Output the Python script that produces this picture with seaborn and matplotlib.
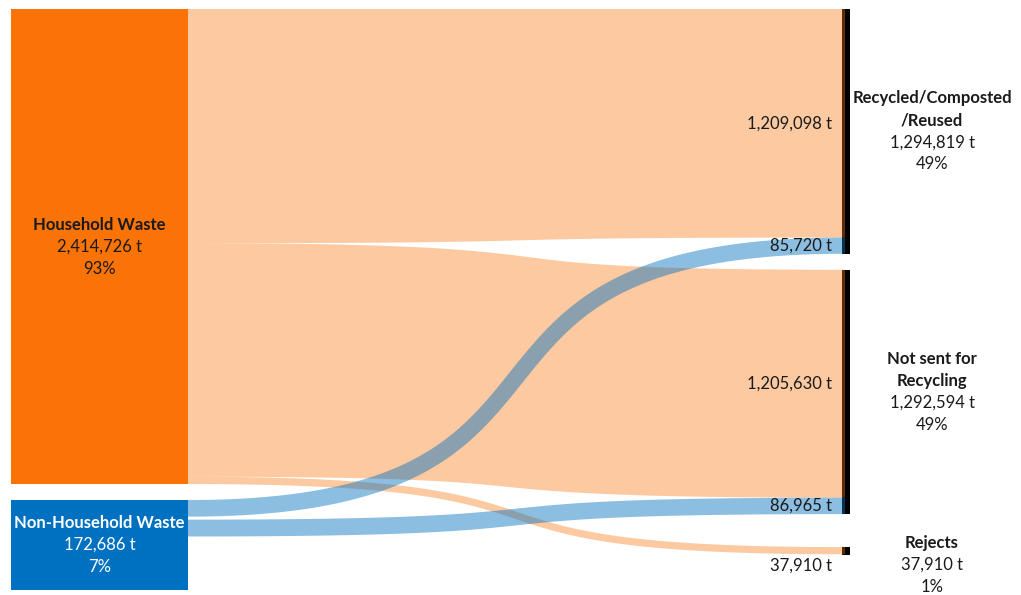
import numpy as np
import pandas as pd
import matplotlib
matplotlib.use("Agg")
import matplotlib.pyplot as plt
from matplotlib.patches import Polygon, Rectangle
import seaborn as sns

# ---------------- data ----------------
sources = ["Household Waste", "Non-Household Waste"]
source_values = [2414726, 172686]
source_pcts = ["93%", "7%"]
targets = ["Recycled/Composted\n/Reused", "Not sent for\nRecycling", "Rejects"]
target_values = [1294819, 1292594, 37910]
target_pcts = ["49%", "49%", "1%"]
flow_source = [0, 1, 0, 1, 0]
flow_target = [0, 0, 1, 1, 2]
flow_values = [1209098, 85720, 1205630, 86965, 37910]

flows = pd.DataFrame({"src": flow_source, "tgt": flow_target, "value": flow_values})

# ---------------- style ----------------
sns.set_theme(style="white")
plt.rcParams["font.family"] = ["Lato", "DejaVu Sans"]

source_colors = ["#F97306", "#0070C0"]
flow_alpha = [0.38, 0.45]
text_color = "#1a1a1a"
label_colors = [text_color, "white"]

W, H = 1021, 595
fig = plt.figure(figsize=(W / 100, H / 100), dpi=100)
ax = fig.add_axes([0, 0, 1, 1])
ax.set_xlim(0, W)
ax.set_ylim(H, 0)
ax.axis("off")

# layout
left_x0, left_x1 = 11, 188
right_x0, right_x1 = 842, 850
flow_x1 = 845
top = 9
scale_left = 1 / 5163.0
scale_right = 1 / 5290.0
left_gap = 16
right_gaps = [16, 33]
min_src_h = 90
min_tgt_h = 8
padded_flow_gap = 3
line_h = 22
fs = 12
curv = 0.68

# source node geometry
src_out = flows.groupby("src")["value"].sum().reindex(range(len(sources))).values
src_top, src_h, src_pad = [], [], []
y = top
for i in range(len(sources)):
    raw = src_out[i] * scale_left
    h = max(raw, min_src_h)
    src_top.append(y)
    src_h.append(h)
    src_pad.append(raw < min_src_h)
    y += h + left_gap

# target node geometry
tgt_in = flows.groupby("tgt")["value"].sum().reindex(range(len(targets))).values
tgt_top, tgt_h = [], []
y = top
for j in range(len(targets)):
    h = max(tgt_in[j] * scale_right, min_tgt_h)
    tgt_top.append(y)
    tgt_h.append(h)
    if j < len(right_gaps):
        y += tgt_in[j] * scale_right + right_gaps[j]

# right-side black bars
for j in range(len(targets)):
    ax.add_patch(Rectangle((right_x0, tgt_top[j]), right_x1 - right_x0, tgt_h[j],
                           facecolor="black", edgecolor="none", zorder=1))

# flows
src_off = [0.0] * len(sources)
tgt_off = [0.0] * len(targets)
flow_geo = []
for _, r in flows.iterrows():
    s, t, v = int(r.src), int(r.tgt), r.value
    yl0 = src_top[s] + src_off[s]
    yl1 = yl0 + v * scale_left
    yr0 = tgt_top[t] + tgt_off[t]
    yr1 = yr0 + v * scale_right
    src_off[s] += v * scale_left + (padded_flow_gap if src_pad[s] else 0)
    tgt_off[t] += v * scale_right
    flow_geo.append((s, t, v, yl0, yl1, yr0, yr1))

xa, xb = left_x1, flow_x1
c1 = xa + curv * (xb - xa)
c2 = xb - curv * (xb - xa)
tt = np.linspace(0, 1, 400)


def ribbon(ya, yb, wa, wb):
    # cubic bezier centre line with horizontal end tangents
    P0, P1, P2, P3 = np.array([xa, ya]), np.array([c1, ya]), np.array([c2, yb]), np.array([xb, yb])
    u = 1 - tt
    pts = (u ** 3)[:, None] * P0 + (3 * u ** 2 * tt)[:, None] * P1 + \
          (3 * u * tt ** 2)[:, None] * P2 + (tt ** 3)[:, None] * P3
    der = (3 * u ** 2)[:, None] * (P1 - P0) + (6 * u * tt)[:, None] * (P2 - P1) + \
          (3 * tt ** 2)[:, None] * (P3 - P2)
    nrm = np.stack([-der[:, 1], der[:, 0]], axis=1)
    nrm /= np.linalg.norm(nrm, axis=1)[:, None]
    sm = 3 * tt ** 2 - 2 * tt ** 3
    w = (wa + (wb - wa) * sm)[:, None] / 2
    upper = pts - nrm * w
    lower = pts + nrm * w
    return np.vstack([upper, lower[::-1]])


for order_src in [0, 1]:
    for s, t, v, yl0, yl1, yr0, yr1 in flow_geo:
        if s != order_src:
            continue
        poly = ribbon((yl0 + yl1) / 2, (yr0 + yr1) / 2, yl1 - yl0, yr1 - yr0)
        ax.add_patch(Polygon(poly, closed=True, facecolor=source_colors[s],
                             alpha=flow_alpha[s], edgecolor="none", zorder=2))

# flow labels
for s, t, v, yl0, yl1, yr0, yr1 in flow_geo:
    if yr1 - yr0 < 10:
        ly = yr1 + 11
    else:
        ly = (yr0 + yr1) / 2
    ax.text(832, ly, f"{int(v):,} t", ha="right", va="center",
            fontsize=fs, color=text_color, zorder=5)

# source nodes + labels
for i in range(len(sources)):
    ax.add_patch(Rectangle((left_x0, src_top[i]), left_x1 - left_x0, src_h[i],
                           facecolor=source_colors[i], edgecolor="none", zorder=3))
    cy = src_top[i] + src_h[i] / 2
    lines = [(sources[i], "bold"), (f"{source_values[i]:,} t", "normal"), (source_pcts[i], "normal")]
    y0 = cy - (len(lines) - 1) / 2 * line_h
    for k, (txt, wt) in enumerate(lines):
        ax.text((left_x0 + left_x1) / 2, y0 + k * line_h, txt, ha="center", va="center",
                fontsize=fs, fontweight=wt, color=label_colors[i], zorder=5)

# target labels
for j in range(len(targets)):
    name_lines = targets[j].split("\n")
    lines = [(n, "bold") for n in name_lines] + [(f"{target_values[j]:,} t", "normal"),
                                                 (target_pcts[j], "normal")]
    cy = tgt_top[j] + tgt_h[j] / 2
    y0 = max(cy - (len(lines) - 1) / 2 * line_h, tgt_top[j] - 4)
    for k, (txt, wt) in enumerate(lines):
        ax.text(932, y0 + k * line_h, txt, ha="center", va="center",
                fontsize=fs, fontweight=wt, color=text_color, zorder=5)

fig.savefig("out.png", dpi=100)
